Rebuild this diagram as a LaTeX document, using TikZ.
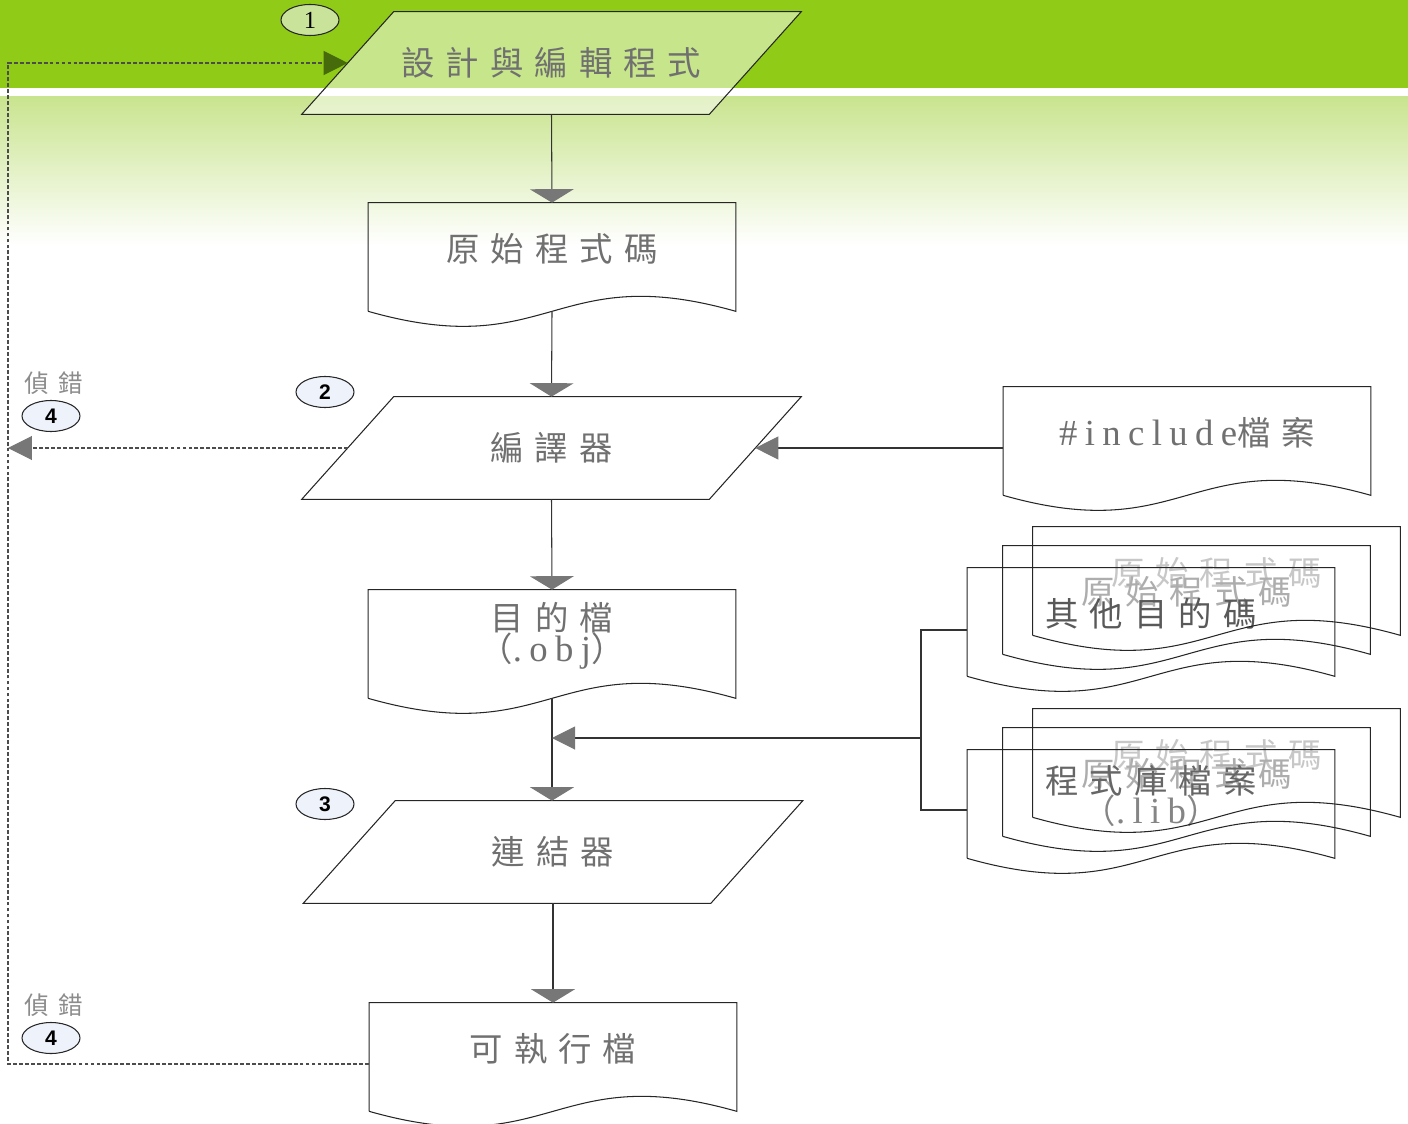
\documentclass[tikz,border=0pt]{standalone}
\usepackage{fontspec}
\setmainfont{Liberation Serif}
\setsansfont{Liberation Sans}
\newfontfamily\cjk[LetterSpace=33]{Noto Sans CJK TC}
\newfontfamily\cjksmall[LetterSpace=40]{Noto Sans CJK TC}
\newfontfamily\latser[LetterSpace=20,Scale=1.1]{Liberation Serif}
\usetikzlibrary{positioning,shapes.geometric,arrows.meta}
\pgfdeclarelayer{back}
\pgfsetlayers{back,main}

\definecolor{bandgreen}{HTML}{8FCB17}
\definecolor{palegreen}{HTML}{C9E48F}
\definecolor{txtgray}{HTML}{707070}
\definecolor{tipgray}{HTML}{777777}
\definecolor{loopgreen}{HTML}{466B0A}
\definecolor{bubbleblue}{HTML}{EEF2FA}
\definecolor{bubblegreen}{HTML}{C9E49A}

% document outline, wavy bottom lies 16px below the node box
\newcommand\docline[1]{\draw[outline] ([yshift=-0.32cm]#1.south west) -- (#1.north west) -- (#1.north east) -- ([yshift=-0.32cm]#1.south east) .. controls +(-183,-52) and +(183,52) .. ([yshift=-0.32cm]#1.south west);}
% parallelogram outline
\newcommand\paraline[2][]{\draw[outline,#1] ([xshift=-0.92cm]#2.south west) -- ([xshift=0.92cm]#2.north west) -- ([xshift=0.92cm]#2.north east) -- ([xshift=-0.92cm]#2.south east) -- cycle;}

\begin{document}
\begin{tikzpicture}[
            x=0.02cm, y=-0.02cm,
            font=\cjk\fontsize{19}{23}\selectfont,
            outline/.style={draw=black!85, line width=0.6pt},
            docbox/.style={rectangle, minimum width=7.34cm, minimum height=1.84cm, inner sep=0pt, align=center, text=txtgray},
            parabox/.style={rectangle, minimum width=8.14cm, minimum height=2.04cm, inner sep=0pt, text=txtgray},
            bubble/.style={ellipse, draw=black!85, line width=0.6pt, fill=bubbleblue, minimum width=1.16cm, minimum height=0.62cm, inner sep=0pt, font=\sffamily\bfseries\fontsize{12}{12}\selectfont},
            flow/.style={draw=black!80, line width=0.6pt},
            downarr/.style={flow, -{Triangle[width=0.88cm, length=0.27cm, color=tipgray]}},
            sidearr/.style={flow, -{Triangle[width=0.46cm, length=0.46cm, color=tipgray]}},
            debugline/.style={draw=black!70, line width=0.6pt, dash pattern=on 2.2pt off 1.2pt},
            debugtext/.style={text=black!45, font=\cjksmall\fontsize{14}{14}\selectfont}
        ]
		\useasboundingbox (0,0) rectangle (1408,1124);
		
		%Background
		\begin{pgfonlayer}{back}
		\fill[bandgreen] (0,0) rectangle (1408,88);
		\shade[top color=palegreen, bottom color=white] (0,97) rectangle (1408,245);
		\end{pgfonlayer}
		
		%Main flow
		\node[parabox] (edit) at (551.5,63) {設計與編輯程式};
		\node[docbox] (src) at (552,249) {原始程式碼};
		\node[parabox] (comp) at (551.5,448) {編譯器};
		\node[docbox] (obj) at (552,636) {目的檔\\[-5.5pt]（{\latser .obj}）};
		\node[parabox] (link) at (553,852) {連結器};
		\node[docbox] (exe) at (553,1049) {可執行檔};
		
		%Inputs
		\node[docbox] (inc) at (1187,433) {{\latser\#include}檔案};
		\node[docbox, text=black!22] (oth3) at (1216.5,573) {原始程式碼};
		\node[docbox, text=black!32] (oth2) at (1186.5,592) {原始程式碼};
		\node[docbox, text=black!65] (oth) at (1151,614) {其他目的碼};
		\node[docbox, text=black!22] (lib3) at (1216.5,755) {原始程式碼};
		\node[docbox, text=black!32] (lib2) at (1186.5,774) {原始程式碼};
		\node[docbox, text=black!60] (lib) at (1151,796) {程式庫檔案\\[-5.5pt]\textcolor{black!48}{（{\latser .lib}）}};
		
		\begin{pgfonlayer}{back}
		\paraline[fill=white, fill opacity=0.5]{edit}
		\end{pgfonlayer}
		\foreach \n in {comp,link} {\paraline{\n}}
		\foreach \n in {src,obj,exe,inc,oth3,oth2,oth,lib3,lib2,lib} {\docline{\n}}
		
		%Steps
		\node[bubble, fill=bubblegreen, font=\rmfamily\fontsize{14}{14}\selectfont] (b1) at (310,20) {1};
		\node[bubble] (b2) at (325,392) {2};
		\node[bubble] (b3) at (325,804) {3};
		\node[bubble] (b4a) at (51,416) {4};
		\node[bubble] (b4b) at (51,1038) {4};
		\node[debugtext] (dbg1) at (54,383) {偵錯};
		\node[debugtext] (dbg2) at (54,1005) {偵錯};
		
		%Arrows
		\draw[downarr] (edit.south) -- (src.north);
		\draw[downarr] ([yshift=-0.32cm]src.south) -- (comp.north);
		\draw[downarr] (comp.south) -- (obj.north);
		\draw[downarr] ([yshift=-0.32cm]obj.south) -- (obj.south |- link.north);
		\draw[downarr] (link.south) -- (exe.north);
		
		\coordinate (jn) at (921,738);
		\draw[flow] ([yshift=-0.32cm]oth.west) -| (jn) |- ([yshift=-0.28cm]lib.west);
		\draw[sidearr] (jn) -- (jn -| obj.south);
		\draw[sidearr] (inc.west |- comp.east) -- (comp.east);
		
		%Debug
		\coordinate (edge) at (8,1064);
		\draw[debugline, -{Triangle[width=0.48cm, length=0.48cm, color=tipgray]}] (comp.west) -- (comp.west -| edge);
		\draw[debugline, -{Triangle[width=0.48cm, length=0.48cm, color=loopgreen]}] (edge -| exe.west) -- (edge) |- (edit.west);
    \end{tikzpicture}
\end{document}
